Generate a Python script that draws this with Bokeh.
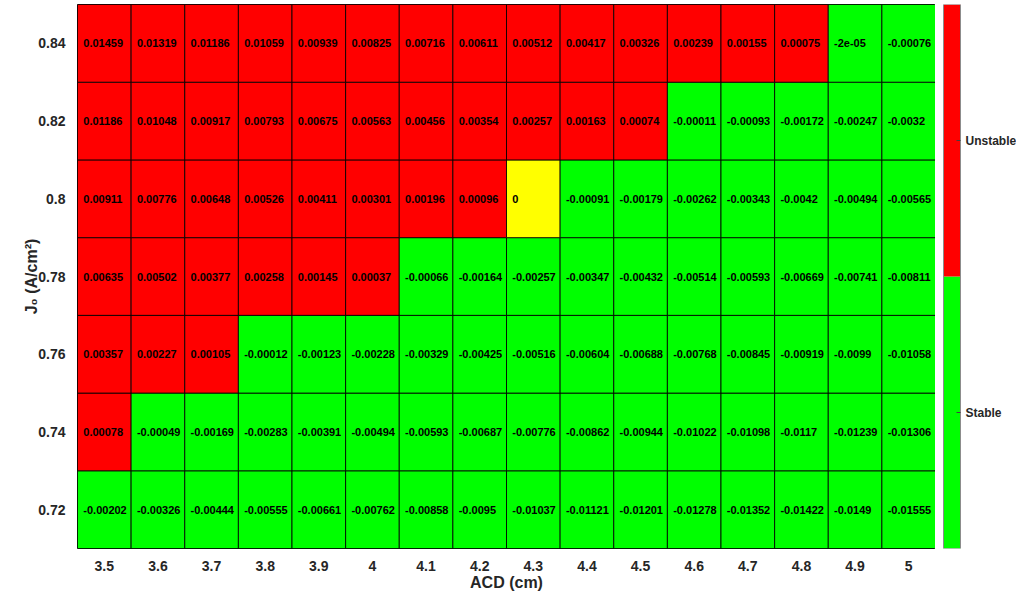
from bokeh.plotting import figure
from bokeh.models import ColumnDataSource, FactorRange, Range1d
from bokeh.layouts import row
from bokeh.core.properties import value
from bokeh.embed import file_html
from bokeh.resources import INLINE

acd = ["3.5", "3.6", "3.7", "3.8", "3.9", "4", "4.1", "4.2", "4.3", "4.4", "4.5", "4.6", "4.7", "4.8", "4.9", "5"]
j0 = ["0.72", "0.74", "0.76", "0.78", "0.8", "0.82", "0.84"]

row_072 = [-0.00202, -0.00326, -0.00444, -0.00555, -0.00661, -0.00762, -0.00858, -0.0095, -0.01037, -0.01121, -0.01201, -0.01278, -0.01352, -0.01422, -0.0149, -0.01555]
row_074 = [0.00078, -0.00049, -0.00169, -0.00283, -0.00391, -0.00494, -0.00593, -0.00687, -0.00776, -0.00862, -0.00944, -0.01022, -0.01098, -0.0117, -0.01239, -0.01306]
row_076 = [0.00357, 0.00227, 0.00105, -0.00012, -0.00123, -0.00228, -0.00329, -0.00425, -0.00516, -0.00604, -0.00688, -0.00768, -0.00845, -0.00919, -0.0099, -0.01058]
row_078 = [0.00635, 0.00502, 0.00377, 0.00258, 0.00145, 0.00037, -0.00066, -0.00164, -0.00257, -0.00347, -0.00432, -0.00514, -0.00593, -0.00669, -0.00741, -0.00811]
row_080 = [0.00911, 0.00776, 0.00648, 0.00526, 0.00411, 0.00301, 0.00196, 0.00096, 0, -0.00091, -0.00179, -0.00262, -0.00343, -0.0042, -0.00494, -0.00565]
row_082 = [0.01186, 0.01048, 0.00917, 0.00793, 0.00675, 0.00563, 0.00456, 0.00354, 0.00257, 0.00163, 0.00074, -0.00011, -0.00093, -0.00172, -0.00247, -0.0032]
row_084 = [0.01459, 0.01319, 0.01186, 0.01059, 0.00939, 0.00825, 0.00716, 0.00611, 0.00512, 0.00417, 0.00326, 0.00239, 0.00155, 0.00075, -2e-05, -0.00076]

rows = [row_072, row_074, row_076, row_078, row_080, row_082, row_084]

cb_labels = ["Stable", "Unstable"]

RED, GREEN, YELLOW = "#FF0000", "#00FF00", "#FFFF00"

xs, ys, vals, labels, colors = [], [], [], [], []
for yl, r in zip(j0, rows):
    for xl, v in zip(acd, r):
        xs.append(xl)
        ys.append(yl)
        vals.append(v)
        labels.append("%g" % v)
        colors.append(RED if v > 0 else (GREEN if v < 0 else YELLOW))

src = ColumnDataSource(dict(x=xs, y=ys, v=vals, label=labels, color=colors))

FONT = "Liberation Sans"
TICK_COLOR = "#262626"

p = figure(width=935, height=594, x_range=FactorRange(factors=acd, range_padding=0),
           y_range=FactorRange(factors=j0, range_padding=0),
           output_backend="svg", toolbar_location=None,
           min_border_left=77, min_border_top=4, min_border_bottom=0, min_border_right=0)

p.rect(x="x", y="y", width=1, height=1, source=src, fill_color="color",
       line_color="black", line_width=1, line_alpha=0.85)
p.text(x="x", y="y", text="label", source=src, x_offset=-21, text_align="left",
       text_baseline="middle", text_font=value(FONT), text_font_style="bold",
       text_font_size="11px", text_color="black")

p.outline_line_color = "black"
p.outline_line_width = 1
p.grid.visible = False

for ax in (p.xaxis[0], p.yaxis[0]):
    ax.axis_line_color = None
    ax.major_tick_line_color = None
    ax.minor_tick_line_color = None
    ax.major_label_text_font = FONT
    ax.major_label_text_font_style = "bold"
    ax.major_label_text_font_size = "14px"
    ax.major_label_text_color = TICK_COLOR
    ax.axis_label_text_font = FONT
    ax.axis_label_text_font_style = "bold"
    ax.axis_label_text_font_size = "16px"
    ax.axis_label_text_color = TICK_COLOR

p.xaxis.axis_label = "ACD (cm)"
p.xaxis.major_label_standoff = 6
p.xaxis.axis_label_standoff = 0
p.yaxis.axis_label = "J₀ (A/cm²)"
p.yaxis.major_label_standoff = 6
p.yaxis.axis_label_standoff = -5

# colour bar drawn as its own small figure
cb = figure(width=81, height=594, x_range=Range1d(0, 81), y_range=Range1d(0, 2),
            output_backend="svg", toolbar_location=None,
            x_axis_location=None, y_axis_location=None,
            min_border_left=0, min_border_right=0, min_border_top=4, min_border_bottom=46)
cb.outline_line_color = None
cb.grid.visible = False
cbs = ColumnDataSource(dict(bottom=[0, 1], top=[1, 2], color=[GREEN, RED],
                            mid=[0.5, 1.5], label=cb_labels))
cb.quad(left=8, right=25, bottom="bottom", top="top", fill_color="color",
        line_color=None, source=cbs)
cb.quad(left=8, right=25, bottom=0, top=2, fill_color=None, line_color="#8c8c8c", line_width=1)
cb.segment(x0=21, x1=25, y0="mid", y1="mid", line_color="#404040", line_width=1, source=cbs)
cb.text(x=30, y="mid", text="label", source=cbs, text_align="left", text_baseline="middle",
        text_font=value(FONT), text_font_style="bold", text_font_size="12px",
        text_color=TICK_COLOR)

layout = row(p, cb, spacing=0)
open("out.html", "w").write(file_html(layout, INLINE))
